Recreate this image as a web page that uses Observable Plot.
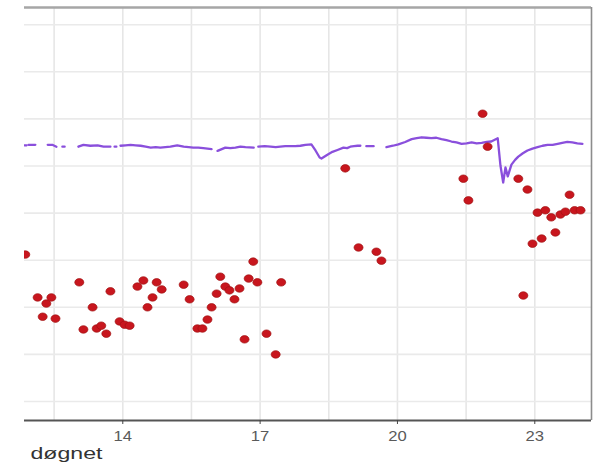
<!DOCTYPE html>
<html>
<head>
<meta charset="utf-8">
<script src="https://cdn.jsdelivr.net/npm/d3@7"></script>
<script src="https://cdn.jsdelivr.net/npm/@observablehq/plot@0.6"></script>
<style>
  html, body { margin: 0; padding: 0; background: #ffffff; }
  #chart { width: 598px; height: 471px; }
</style>
</head>
<body>
<div id="chart"></div>
<script>
// ---- data ----
const xTicks = [14, 17, 20, 23];
const xGrid = [12.5, 14, 15.5, 17, 18.5, 20, 21.5, 23];
const yGrid = [0, 1, 2, 3, 4, 5, 6, 7, 8];
const xDomain = [11.853, 24.239];
const yDomain = [-0.403, 8.365];
const xLabel = "døgnet";

// red measured points
const dotHour = [11.87,12.14,12.33,12.44,12.25,12.53,13.05,13.14,13.34,13.43,13.53,13.64,13.73,13.93,14.04,14.15,14.32,14.45,14.54,14.65,14.74,14.85,
  15.33,15.46,15.63,15.74,15.85,15.94,16.05,16.13,16.24,16.33,16.44,16.55,16.66,16.75,16.85,16.94,17.14,17.34,17.46,
  18.86,19.15,19.54,19.65,21.44,21.55,21.86,21.97,22.64,22.75,22.84,22.95,23.06,23.15,23.23,23.36,23.45,23.56,23.67,23.76,23.87,24.00];
const dotValue = [3.12,2.21,2.08,2.21,1.80,1.76,2.53,1.53,2.00,1.55,1.61,1.44,2.34,1.70,1.63,1.61,2.44,2.57,2.00,2.21,2.53,2.38,
  2.48,2.17,1.55,1.55,1.74,2.00,2.29,2.65,2.44,2.36,2.17,2.40,1.32,2.61,2.97,2.53,1.44,1.00,2.53,
  4.95,3.27,3.18,2.99,4.73,4.27,6.11,5.41,4.73,2.25,4.50,3.35,4.01,3.46,4.06,3.91,3.59,3.97,4.03,4.39,4.06,4.06];

// purple continuous trace (segments separated by gaps)
const lineHour = [
  11.86,11.90,
  11.94,12.09,
  12.36,12.46,12.55,
  12.68,12.73,
  13.03,13.14,13.29,13.45,13.58,13.73,
  13.82,13.86,
  13.95,14.06,14.17,14.28,14.39,14.50,14.61,14.72,14.82,14.93,15.04,15.19,15.33,15.44,15.54,15.65,15.76,15.94,
  16.07,16.24,16.35,16.46,16.57,16.68,16.86,
  16.96,17.10,17.23,17.34,17.44,17.55,17.66,17.77,17.88,17.99,18.12,18.21,18.30,18.34,18.47,18.58,18.69,18.82,18.90,18.97,19.05,19.13,19.19,
  19.32,19.48,
  19.76,19.90,20.02,20.17,20.31,20.42,20.53,20.63,20.74,20.85,20.96,21.07,21.18,21.29,21.40,21.51,21.62,21.73,21.84,21.95,22.05,22.19,22.25,22.31,22.36,22.41,22.49,22.57,22.64,22.74,22.84,22.95,23.06,23.17,23.28,23.39,23.50,23.60,23.71,23.82,23.93,24.04];
const lineValue = [
  5.44,5.44,
  5.45,5.45,
  5.45,5.45,5.41,
  5.41,5.41,
  5.41,5.45,5.43,5.44,5.41,5.41,
  5.41,5.41,
  5.43,5.44,5.45,5.44,5.43,5.41,5.39,5.40,5.39,5.40,5.41,5.44,5.41,5.40,5.39,5.39,5.38,5.36,
  5.32,5.39,5.38,5.39,5.41,5.40,5.39,
  5.41,5.42,5.41,5.40,5.41,5.42,5.42,5.42,5.43,5.45,5.46,5.33,5.18,5.16,5.24,5.30,5.34,5.39,5.38,5.41,5.42,5.43,5.43,
  5.42,5.42,
  5.40,5.43,5.46,5.51,5.57,5.59,5.61,5.60,5.59,5.60,5.57,5.55,5.52,5.50,5.47,5.48,5.50,5.48,5.49,5.51,5.52,5.59,5.01,4.65,4.97,4.78,5.03,5.13,5.20,5.27,5.33,5.37,5.40,5.43,5.45,5.45,5.47,5.49,5.51,5.50,5.48,5.47];
const lineSegment = [
  1,1, 2,2, 3,3,3, 4,4, 5,5,5,5,5,5, 6,6,
  7,7,7,7,7,7,7,7,7,7,7,7,7,7,7,7,7,7,
  8,8,8,8,8,8,8,
  9,9,9,9,9,9,9,9,9,9,9,9,9,9,9,9,9,9,9,9,9,9,9,
  10,10,
  11,11,11,11,11,11,11,11,11,11,11,11,11,11,11,11,11,11,11,11,11,11,11,11,11,11,11,11,11,11,11,11,11,11,11,11,11,11,11,11,11,11,11];

// ---- build tables ----
const dots = dotHour.map((h, i) => ({h, v: dotValue[i]}));
const trace = lineHour.map((h, i) => ({h, v: lineValue[i], s: lineSegment[i]}));

// slightly wide ellipse symbol (reference image is horizontally stretched)
const ellipse = {
  draw(ctx, size) {
    const r = Math.sqrt(size / Math.PI);
    const rx = r * 1.1, ry = r * 0.92, k = 0.5523;
    ctx.moveTo(rx, 0);
    ctx.bezierCurveTo(rx, ry * k, rx * k, ry, 0, ry);
    ctx.bezierCurveTo(-rx * k, ry, -rx, ry * k, -rx, 0);
    ctx.bezierCurveTo(-rx, -ry * k, -rx * k, -ry, 0, -ry);
    ctx.bezierCurveTo(rx * k, -ry, rx, -ry * k, rx, 0);
    ctx.closePath();
  }
};

const chart = Plot.plot({
  width: 598,
  height: 471,
  marginLeft: 24,
  marginRight: 7,
  marginTop: 7,
  marginBottom: 51,
  style: {background: "#ffffff", fontFamily: "'Liberation Sans', Arial, sans-serif"},
  x: {domain: xDomain, label: null},
  y: {domain: yDomain, axis: null},
  marks: [
    Plot.gridX({ticks: xGrid, stroke: "#e6e6e6", strokeOpacity: 1, strokeWidth: 1.6}),
    Plot.gridY({ticks: yGrid, stroke: "#eaeaea", strokeOpacity: 1, strokeWidth: 1.6}),
    Plot.ruleY([yDomain[1]], {stroke: "#a6a6a6", strokeWidth: 2.5}),
    Plot.ruleX([xDomain[1]], {stroke: "#8c8c8c", strokeWidth: 1.6}),
    Plot.ruleY([yDomain[0]], {stroke: "#555555", strokeWidth: 2}),
    Plot.axisX({ticks: xTicks, tickSize: 4, tickPadding: 7, stroke: "#444", fontSize: 14, fill: "#5a5a5a", label: null}),
    Plot.line(trace, {x: "h", y: "v", z: "s", stroke: "#8a4fdc", strokeWidth: 2.3, clip: true}),
    Plot.dot(dots, {x: "h", y: "v", r: 4.1, symbol: ellipse, fill: "#c8161e", stroke: "#a01212", strokeWidth: 0.7, clip: true}),
    Plot.text([xLabel], {frameAnchor: "bottom-left", text: d => d, textAnchor: "start", dx: 6, dy: 38, fontSize: 16.5, fill: "#333333"})
  ]
});

document.getElementById("chart").appendChild(chart);

// widen texts to match the stretched look of the reference
d3.select(chart).selectAll("text").each(function () {
  const t = this.textContent;
  if (t === xLabel) {
    d3.select(this).attr("textLength", 72).attr("lengthAdjust", "spacingAndGlyphs");
  } else if (/^\d+$/.test(t)) {
    d3.select(this).attr("textLength", 18.5).attr("lengthAdjust", "spacingAndGlyphs");
  }
});
</script>
</body>
</html>
